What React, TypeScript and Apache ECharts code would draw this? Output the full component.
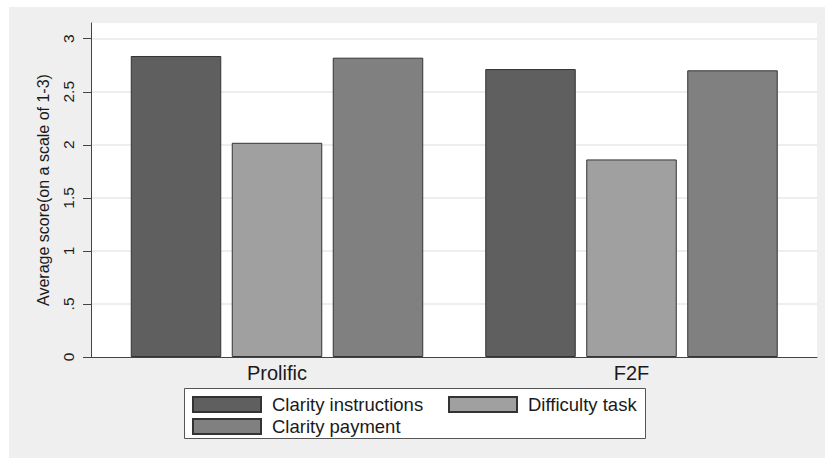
import React, { useEffect, useRef } from "react";
import * as echarts from "echarts";

const categories = ["Prolific", "F2F"];
const seriesNames = ["Clarity instructions", "Difficulty task", "Clarity payment"];
const clarityInstructions = [2.837, 2.714];
const difficultyTask = [2.019, 1.862];
const clarityPayment = [2.821, 2.702];
const yTickValues = [0, 0.5, 1, 1.5, 2, 2.5, 3];
const yTickLabels = ["0", ".5", "1", "1.5", "2", "2.5", "3"];
const yMax = 3.148;
const barColors = ["#5f5f5f", "#a0a0a0", "#808080"];

export default function App() {
  const ref = useRef<HTMLDivElement>(null);
  useEffect(() => {
    if (!ref.current) return;
    const chart = echarts.init(ref.current, undefined, { renderer: "svg" });
    const font = "'Liberation Sans', Arial, Helvetica, sans-serif";
    const seriesData = [clarityInstructions, difficultyTask, clarityPayment];
    const legendPos = [
      { left: 192, top: 395 },
      { left: 448, top: 395 },
      { left: 192, top: 417 },
    ];
    const option: any = {
      animation: false,
      backgroundColor: "#ffffff",
      textStyle: { fontFamily: font },
      graphic: [
        {
          type: "rect",
          z: -100,
          silent: true,
          shape: { x: 9, y: 7, width: 816, height: 451 },
          style: { fill: "#efefef" },
        },
        {
          type: "rect",
          z: 1,
          silent: true,
          shape: { x: 184.5, y: 388.5, width: 461, height: 50 },
          style: { fill: "#ffffff", stroke: "#555555", lineWidth: 1 },
        },
      ],
      grid: [
        {
          left: 91,
          right: 8,
          top: 23,
          bottom: 101,
          show: true,
          backgroundColor: "#ffffff",
          borderWidth: 0,
        },
        {
          left: 99.75,
          right: 16.25,
          top: 23,
          bottom: 101,
        },
      ],
      xAxis: [
        {
          gridIndex: 0,
          type: "category",
          data: categories,
          axisLine: { show: true, lineStyle: { color: "#444444", width: 1 } },
          axisTick: { show: false },
          axisLabel: { show: false },
          splitLine: { show: false },
        },
        {
          gridIndex: 1,
          type: "category",
          data: categories,
          axisLine: { show: false },
          axisTick: { show: false },
          axisLabel: {
            show: true,
            fontSize: 20,
            color: "#1a1a1a",
            margin: 6,
            fontFamily: font,
          },
          splitLine: { show: false },
        },
      ],
      yAxis: [
        {
          gridIndex: 0,
          type: "value",
          min: 0,
          max: yMax,
          name: "Average score(on a scale of 1-3)",
          nameLocation: "middle",
          nameRotate: 90,
          nameGap: 40,
          nameTextStyle: { fontSize: 16, color: "#1a1a1a", fontFamily: font },
          axisLine: { show: true, lineStyle: { color: "#444444", width: 1 } },
          axisTick: {
            show: true,
            length: 8,
            customValues: yTickValues,
            lineStyle: { color: "#444444" },
          },
          axisLabel: {
            show: true,
            rotate: 90,
            margin: 15,
            fontSize: 15.5,
            color: "#1a1a1a",
            fontFamily: font,
            customValues: yTickValues,
            formatter: (v: number) => {
              const i = yTickValues.indexOf(v);
              return i >= 0 ? yTickLabels[i] : "";
            },
          },
          splitLine: { show: false },
        },
        {
          gridIndex: 1,
          type: "value",
          min: 0,
          max: yMax,
          show: false,
          splitLine: { show: false },
        },
      ],
      legend: seriesNames.map((name, i) => ({
        data: [name],
        left: legendPos[i].left,
        top: legendPos[i].top,
        padding: 0,
        itemWidth: 68,
        itemHeight: 15,
        icon: "rect",
        selectedMode: false,
        textStyle: {
          fontSize: 18.5,
          color: "#1a1a1a",
          fontFamily: font,
          padding: [0, 0, 0, 6],
        },
        z: 5,
      })),
      series: [
        {
          type: "line",
          xAxisIndex: 0,
          yAxisIndex: 0,
          data: [],
          silent: true,
          z: 0,
          markLine: {
            silent: true,
            symbol: ["none", "none"],
            z: 0,
            label: { show: false },
            lineStyle: { color: "#e8e8e8", width: 1.5, type: "solid" },
            data: yTickValues.slice(1).map((v) => ({ yAxis: v })),
          },
        },
        ...seriesNames.map((name, i) => ({
          type: "bar",
          name,
          xAxisIndex: 1,
          yAxisIndex: 1,
          data: seriesData[i],
          barWidth: 90.5,
          barGap: "11.6%",
          z: 3,
          itemStyle: {
            color: barColors[i],
            borderColor: "#333333",
            borderWidth: 1,
          },
        })),
      ],
    };
    chart.setOption(option);
    return () => chart.dispose();
  }, []);
  return (
    <div
      ref={ref}
      style={{ position: "absolute", left: 0, top: 0, width: 825, height: 458 }}
    />
  );
}
